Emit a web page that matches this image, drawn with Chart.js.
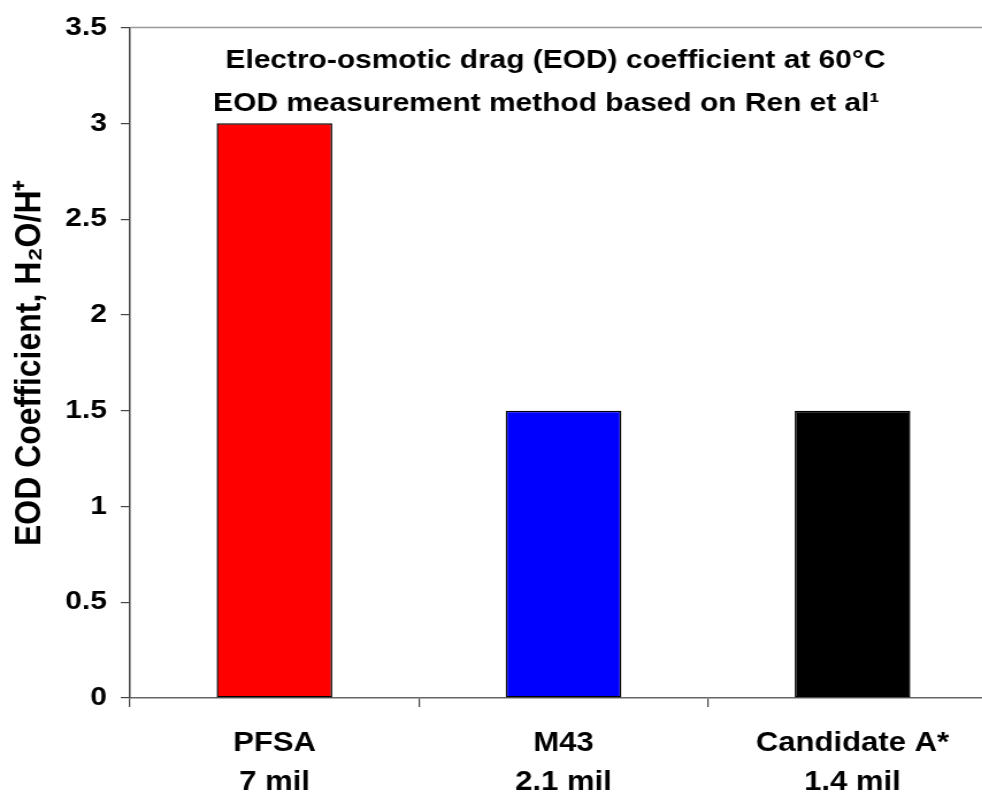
<!DOCTYPE html>
<html>
<head>
<meta charset="utf-8">
<script src="https://cdn.jsdelivr.net/npm/chart.js@4"></script>
<style>
  html, body { margin: 0; padding: 0; background: #fff; overflow: hidden; }
  /* the original chart is stretched sideways, so draw narrow and widen */
  #wrap { width: 870px; height: 794px; transform: scaleX(1.15); transform-origin: 0 0; }
</style>
</head>
<body>
<div id="wrap"><canvas id="chart"></canvas></div>
<script>
const categories = [['PFSA', '7 mil'], ['M43', '2.1 mil'], ['Candidate A*', '1.4 mil']];
const eodValues = [3, 1.5, 1.5];
const barColors = ['#ff0000', '#0000ff', '#000000'];
const yTickLabels = ['0', '0.5', '1', '1.5', '2', '2.5', '3', '3.5'];
const titleLines = ['Electro-osmotic drag (EOD) coefficient at 60°C', 'EOD measurement method based on Ren et al¹'];
const yTitle = 'EOD Coefficient, H₂O/H⁺';

const fontFamily = '"Liberation Sans", Arial, sans-serif';

// titles sit inside the plot area, plus the grey top border of the plot
const insideTitle = {
    id: 'insideTitle',
    afterDraw(chart) {
        const { ctx, chartArea } = chart;
        ctx.save();
        ctx.strokeStyle = '#999';
        ctx.lineWidth = 1.5;
        ctx.beginPath();
        ctx.moveTo(chartArea.left, chartArea.top);
        ctx.lineTo(chartArea.right, chartArea.top);
        ctx.stroke();

        ctx.fillStyle = '#000';
        ctx.font = 'bold 26px ' + fontFamily;
        ctx.textAlign = 'center';
        ctx.textBaseline = 'alphabetic';
        ctx.fillText(titleLines[0], chartArea.left + 370, chartArea.top + 40);
        ctx.fillText(titleLines[1], chartArea.left + 362, chartArea.top + 83);
        ctx.restore();
    }
};

new Chart(document.getElementById('chart'), {
    type: 'bar',
    data: {
        labels: categories,
        datasets: [{
            data: eodValues,
            backgroundColor: barColors,
            borderColor: '#000',
            borderWidth: 1.5,
            borderSkipped: false,
            categoryPercentage: 1,
            barPercentage: 0.4
        }]
    },
    options: {
        responsive: true,
        maintainAspectRatio: false,
        animation: false,
        devicePixelRatio: 1,
        layout: { padding: { top: 22, right: 3, left: 0, bottom: 0 } },
        plugins: {
            legend: { display: false },
            tooltip: { enabled: false }
        },
        scales: {
            x: {
                ticks: {
                    color: '#000',
                    font: { family: fontFamily, size: 27, weight: 'bold', lineHeight: 1.45 },
                    padding: 17,
                    maxRotation: 0,
                    autoSkip: false
                },
                grid: { offset: true, drawOnChartArea: false, tickLength: 9, color: '#444', lineWidth: 1.2 },
                border: { color: '#666', width: 1.5 },
                afterFit(scale) { scale.height = 96; }
            },
            y: {
                min: 0,
                max: 3.5,
                ticks: {
                    stepSize: 0.5,
                    color: '#000',
                    padding: 12,
                    font: { family: fontFamily, size: 26, weight: 'bold' },
                    callback: (v) => yTickLabels[Math.round(v * 2)]
                },
                grid: { drawOnChartArea: false, tickLength: 8, color: '#444', lineWidth: 1.2 },
                border: { color: '#444', width: 1.5 },
                title: {
                    display: true,
                    text: yTitle,
                    color: '#000',
                    font: { family: fontFamily, size: 32, weight: 'bold', lineHeight: 1.2 },
                    padding: { top: 7, bottom: 0 }
                },
                afterFit(scale) { scale.width = 113; }
            }
        }
    },
    plugins: [insideTitle]
});
</script>
</body>
</html>
